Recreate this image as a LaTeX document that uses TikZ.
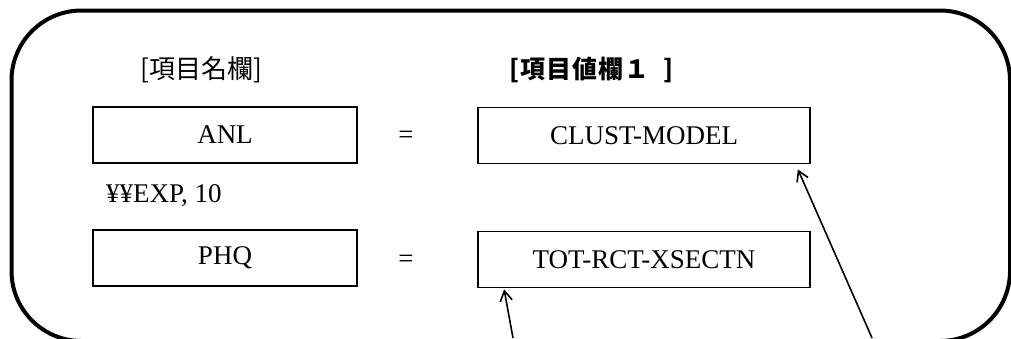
\documentclass[tikz,border=0pt]{standalone}
\usepackage{fontspec}
\setmainfont{Liberation Serif}
\newfontfamily\jp{Noto Sans CJK JP}
\newfontfamily\jpwide{Noto Sans CJK JP}[LetterSpace=4]
\usetikzlibrary{arrows.meta}
\tikzset{
  fieldbox/.style={draw, line width=1.8pt, minimum height=56pt, inner sep=0pt, font=\fontsize{27}{31}\selectfont},
  namebox/.style={fieldbox, minimum width=264pt},
  valbox/.style={fieldbox, minimum width=332pt},
  plain/.style={inner sep=0pt, font=\fontsize{27}{31}\selectfont},
  jplabel/.style={inner sep=0pt, font=\jp\fontsize{26}{30}\selectfont},
  jpbold/.style={inner sep=0pt, font=\jpwide\bfseries\fontsize{25}{29}\selectfont},
  arr/.style={line width=1.6pt, -{Straight Barb[length=10pt,width=12pt,line width=1.6pt]}},
  frame/.style={line width=4pt, rounded corners=70pt}
}
\begin{document}
\begin{tikzpicture}[x=1pt,y=-1pt]
\useasboundingbox (0,0) rectangle (1011,338);
\draw[frame] (11.5,10.5) rectangle (1010,341);
\node[jplabel] (h1) at (201.5,70) {[項目名欄]};
\node[jpbold] (h2) at (591.5,70) {[項目値欄１\hspace{14pt}]};
\node[namebox] (anl) at (225,135) {ANL};
\node[valbox] (clust) at (644,135.5) {CLUST-MODEL};
\node[plain] (eq1) at (406,137) {=};
\node[plain, anchor=west] (exp) at (106,196) {¥¥EXP, 10};
\node[namebox] (phq) at (225,258) {PHQ};
\node[valbox] (tot) at (644,259.5) {TOT-RCT-XSECTN};
\node[plain] (eq2) at (406,261) {=};
\coordinate (s1) at (513,338);
\coordinate (s2) at (872,338);
\draw[arr] (s1) -- ([xshift=27pt,yshift=-1pt]tot.south west);
\draw[arr] (s2) -- ([xshift=-13pt,yshift=-5pt]clust.south east);
\end{tikzpicture}
\end{document}
